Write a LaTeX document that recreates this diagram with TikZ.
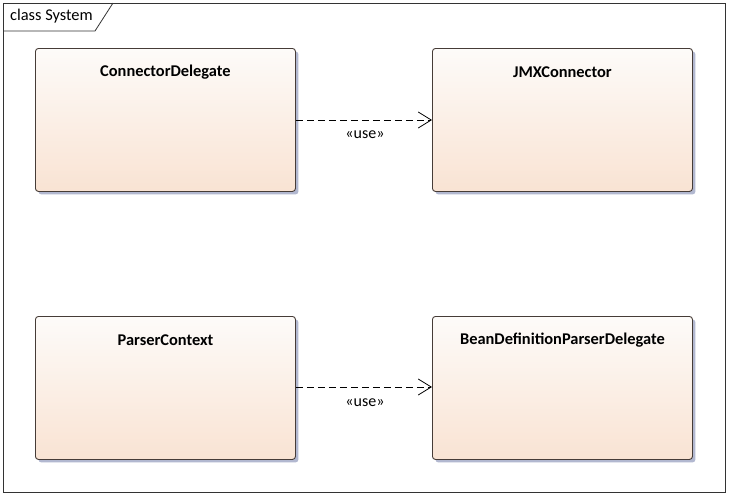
\documentclass[tikz,border=0pt]{standalone}
\usepackage{fontspec}
\setmainfont{Carlito}
\usetikzlibrary{arrows.meta,shadows}
\definecolor{boxtop}{RGB}{253,251,249}
\definecolor{boxbot}{RGB}{249,227,211}
\definecolor{shadowc}{RGB}{178,184,208}
\definecolor{edgec}{RGB}{70,60,55}
\tikzset{
  cls/.style={draw=edgec, line width=0.9pt, rounded corners=3pt, top color=boxtop, bottom color=boxbot,
    minimum width=260pt, minimum height=143pt, anchor=north west,
    drop shadow={shadow xshift=3pt, shadow yshift=-3pt, fill=shadowc, opacity=1}},
  title/.style={font=\fontsize{16.4}{18}\selectfont\bfseries, anchor=center},
  dep/.style={draw=black, line width=0.7pt, dash pattern=on 7pt off 4pt, -{Straight Barb[length=13pt,width=16pt,line width=0.8pt]}},
  lbl/.style={font=\fontsize{16}{18}\selectfont, text=black}
}
\begin{document}
\begin{tikzpicture}[x=1pt,y=-1pt]
\useasboundingbox (0,0) rectangle (729,496);
\fill[white] (0,0) rectangle (729,496);
% frame
\draw[line width=0.8pt, draw=black!80] (3,3) rectangle (725,492);
\draw[line width=0.8pt, draw=black!80] (3,31) -- (95,31) -- (113,3);
\node[font=\fontsize{16.4}{18}\selectfont, anchor=west, inner sep=0pt] (ftitle) at (10,16.5) {class System};
% classes
\node[cls] (cd) at (35,48) {};
\node[cls] (jmx) at (432,48) {};
\node[cls] (pc) at (35,316) {};
\node[cls] (bdp) at (432,316) {};
\node[title] at ([yshift=-24pt]cd.north) {ConnectorDelegate};
\node[title] at ([yshift=-24pt]jmx.north) {JMXConnector};
\node[title] at ([yshift=-24pt]pc.north) {ParserContext};
\node[title] at ([yshift=-24pt]bdp.north) {BeanDefinitionParserDelegate};
% dependencies
\coordinate (a1) at ([yshift=-72pt]cd.north east);
\coordinate (b1) at ([yshift=-72pt]jmx.north west);
\draw[dep] (a1) -- (b1);
\node[lbl] (u1) at (365,135) {«use»};
\coordinate (a2) at ([yshift=-71pt]pc.north east);
\coordinate (b2) at ([yshift=-71pt]bdp.north west);
\draw[dep] (a2) -- (b2);
\node[lbl] (u2) at (365,403) {«use»};
\end{tikzpicture}
\end{document}
